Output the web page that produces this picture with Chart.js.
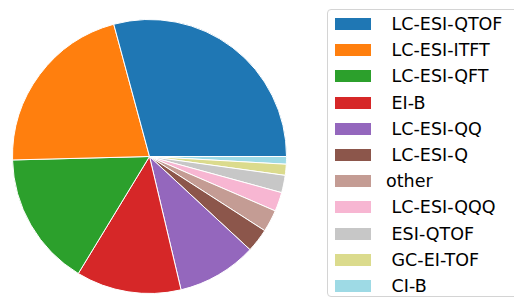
<!DOCTYPE html>
<html>
<head>
<meta charset="utf-8">
<script src="https://cdn.jsdelivr.net/npm/chart.js@4/dist/chart.umd.min.js"></script>
<style>
	html, body { margin: 0; padding: 0; background: #fff; overflow: hidden; }
	body { width: 514px; height: 300px; position: relative; font-family: "DejaVu Sans", sans-serif; }
	#piebox { position: absolute; left: 12px; top: 19px; width: 275px; height: 275px; }
	#legend {
		position: absolute; left: 327px; top: 9px; width: 210px; height: 288px;
		border: 1.5px solid #d4d4d4; border-radius: 4px; box-sizing: border-box;
	}
	.item { position: absolute; left: 7px; height: 12px; }
	.swatch { position: absolute; left: 0; top: 0; width: 36px; height: 12px; }
	.label { position: absolute; left: 51px; top: -4px; font-size: 17.5px; line-height: 20px; color: #000; white-space: pre; }
</style>
</head>
<body>
<div id="piebox"><canvas id="pie" width="275" height="275"></canvas></div>
<div id="legend"></div>
<script>
// slice labels, in the order matplotlib drew them (counter-clockwise from 3 o'clock)
const labels = [' LC-ESI-QTOF', ' LC-ESI-ITFT', ' LC-ESI-QFT', ' EI-B', ' LC-ESI-QQ', ' LC-ESI-Q',
	'other', ' LC-ESI-QQQ', ' ESI-QTOF', ' GC-EI-TOF', ' CI-B'];
// share of each slice, percent
const values = [29.2, 21.2, 15.9, 12.4, 9.4, 2.8, 2.6, 2.25, 2.05, 1.3, 0.9];
const colors = ['#1f77b4', '#ff7f0e', '#2ca02c', '#d62728', '#9467bd', '#8c564b',
	'#c49c94', '#f7b6d2', '#c7c7c7', '#dbdb8d', '#9edae5'];

// chart.js goes clockwise, so feed it reversed and start at 3 o'clock
const rev = (arr) => arr.slice().reverse();

new Chart(document.getElementById('pie'), {
	type: 'pie',
	data: {
		labels: rev(labels).map((l) => l.trim()),
		datasets: [{
			data: rev(values),
			backgroundColor: rev(colors),
			borderColor: '#ffffff',
			borderWidth: 1
		}]
	},
	options: {
		responsive: false,
		animation: false,
		devicePixelRatio: 1,
		rotation: 90,
		layout: { padding: 0 },
		plugins: {
			legend: { display: false },
			tooltip: { enabled: false }
		}
	}
});

// legend box on the right
const legendElt = document.getElementById('legend');
labels.forEach((label, i) => {
	const item = document.createElement('div');
	item.classList.add('item');
	item.style.top = (8 + i * 26.2) + 'px';
	const sw = document.createElement('div');
	sw.classList.add('swatch');
	sw.style.background = colors[i];
	const txt = document.createElement('div');
	txt.classList.add('label');
	txt.textContent = label;
	item.appendChild(sw);
	item.appendChild(txt);
	legendElt.appendChild(item);
});
</script>
</body>
</html>
